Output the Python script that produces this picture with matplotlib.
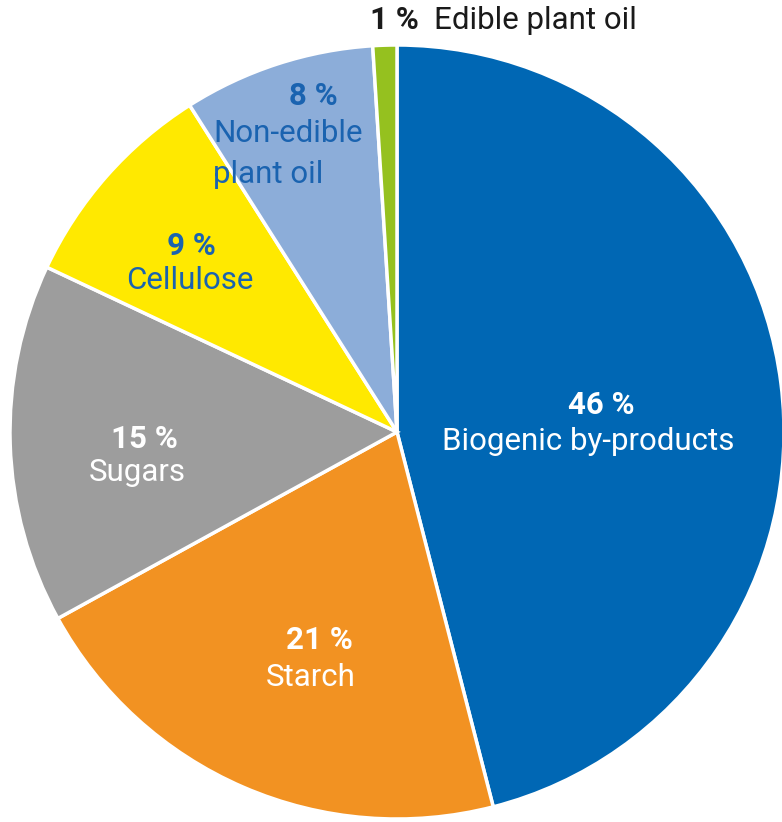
import matplotlib
matplotlib.use("Agg")
import matplotlib.pyplot as plt

categories = ["Biogenic by-products", "Starch", "Sugars", "Cellulose", "Non-edible\nplant oil", "Edible plant oil"]
values = [46, 21, 15, 9, 8, 1]
colors = ["#0067b4", "#f29222", "#9d9d9d", "#ffe900", "#8cadd9", "#95c11f"]

W, H = 782, 822
fig = plt.figure(figsize=(W / 100, H / 100), dpi=100)
ax = fig.add_axes([0, 0, 1, 1])
ax.set_xlim(0, W)
ax.set_ylim(0, H)
ax.set_aspect("equal")
ax.axis("off")

cx, cy, r = 397, H - 432, 387
ax.pie(values, colors=colors, startangle=90, counterclock=False,
       center=(cx, cy), radius=r,
       wedgeprops=dict(edgecolor="white", linewidth=2.5), frame=False)
ax.set_xlim(0, W)
ax.set_ylim(0, H)

fam = ["Roboto", "DejaVu Sans"]
fs = 22.5
lw = "normal"
blue_txt = "#1a63b0"

def Y(y):
    return H - y

# Biogenic
ax.text(601, Y(405), "46 %", ha="center", va="center", color="white", fontsize=fs, fontweight="bold", family=fam)
ax.text(588, Y(441), "Biogenic by-products", ha="center", va="center", color="white", fontsize=fs, fontweight=lw, family=fam)
# Starch
ax.text(319, Y(640), "21 %", ha="center", va="center", color="white", fontsize=fs, fontweight="bold", family=fam)
ax.text(311, Y(677), "Starch", ha="center", va="center", color="white", fontsize=fs, fontweight=lw, family=fam)
# Sugars
ax.text(144, Y(439), "15 %", ha="center", va="center", color="white", fontsize=fs, fontweight="bold", family=fam)
ax.text(137, Y(472), "Sugars", ha="center", va="center", color="white", fontsize=fs, fontweight=lw, family=fam)
# Cellulose
ax.text(191, Y(246), "9 %", ha="center", va="center", color=blue_txt, fontsize=fs, fontweight="bold", family=fam)
ax.text(190, Y(280), "Cellulose", ha="center", va="center", color=blue_txt, fontsize=fs, fontweight=lw, family=fam)
# Non-edible plant oil
ax.text(313, Y(96), "8 %", ha="center", va="center", color=blue_txt, fontsize=fs, fontweight="bold", family=fam)
ax.text(213, Y(133), "Non-edible", ha="left", va="center", color=blue_txt, fontsize=fs, fontweight=lw, family=fam)
ax.text(213, Y(174), "plant oil", ha="left", va="center", color=blue_txt, fontsize=fs, fontweight=lw, family=fam)
# Edible plant oil (outside)
ax.text(370, Y(20), "1 %", ha="left", va="center", color="#1a1a1a", fontsize=fs, fontweight="bold", family=fam)
ax.text(434, Y(20), "Edible plant oil", ha="left", va="center", color="#1a1a1a", fontsize=fs, fontweight=lw, family=fam)

fig.savefig("out.png", dpi=100, facecolor="white")
